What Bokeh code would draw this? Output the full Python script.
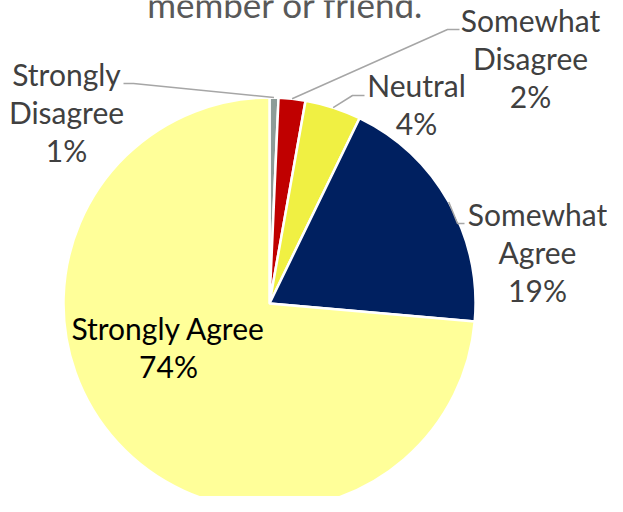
import numpy as np
from bokeh.plotting import figure
from bokeh.models import Range1d, ColumnDataSource
from bokeh.core.properties import value
from bokeh.embed import file_html
from bokeh.resources import INLINE

# ---------------- data ----------------
categories = ["Strongly Disagree", "Somewhat Disagree", "Neutral", "Somewhat Agree", "Strongly Agree"]
shares = [0.7, 2.1, 4.4, 19.2, 73.6]
pct_labels = ["1%", "2%", "4%", "19%", "74%"]
name_lines = [["Strongly", "Disagree"], ["Somewhat", "Disagree"], ["Neutral"],
              ["Somewhat", "Agree"], ["Strongly Agree"]]
title_text = "member or friend."

# ---------------- styles / layout (picture pixels) ----------------
colors = ["#8E9C98", "#C00000", "#F0F043", "#002060", "#FFFF99"]
label_colors = ["#404040", "#404040", "#404040", "#404040", "#000000"]
CX, CY, R = 269, 303, 206
W, H = 607, 496
label_cx = [66, 530, 416, 537, 168]
label_y0 = [84, 30, 95, 224, 338]
LINE_STEP = 38
TEXT_SHIFT = 11  # compensation for where the renderer puts the baseline
elbow_px = [(133, 83), (447, 29), (352, 95), (457, 223), None]
end_px = [(123, 83), (459, 29), (364, 95), (464, 223), None]
FONT = "Lato"
FS = "30px"


def dx(px):
    return px - CX


def dy(py):
    return CY - py


p = figure(width=W, height=H, output_backend="svg", toolbar_location=None,
           x_range=Range1d(dx(0), dx(W)), y_range=Range1d(dy(H), dy(0)),
           min_border=0, outline_line_color=None)
p.axis.visible = False
p.grid.visible = False
p.background_fill_color = "white"
p.border_fill_color = "white"

fr = np.array(shares) / np.sum(shares)
cum_end = np.cumsum(fr)
cum_start = cum_end - fr
src = ColumnDataSource(dict(
    cat=categories,
    start=np.pi / 2 - 2 * np.pi * cum_end,
    end=np.pi / 2 - 2 * np.pi * cum_start,
    color=colors,
))
p.wedge(x=0, y=0, radius=R, start_angle="start", end_angle="end", direction="anticlock",
        fill_color="color", line_color="white", line_width=2.5, source=src)

# leader lines
mid = (cum_start + cum_end) / 2 * 2 * np.pi
for i in range(len(categories)):
    if elbow_px[i] is None:
        continue
    sx = R * np.sin(mid[i])
    sy = R * np.cos(mid[i])
    xs = [sx, dx(elbow_px[i][0]), dx(end_px[i][0])]
    ys = [sy, dy(elbow_px[i][1]), dy(end_px[i][1])]
    p.line(xs, ys, line_color="#A6A6A6", line_width=1.5)

# labels
tx, ty, tt, tc = [], [], [], []
for i in range(len(categories)):
    lines = name_lines[i] + [pct_labels[i]]
    for k, ln in enumerate(lines):
        tx.append(dx(label_cx[i]))
        ty.append(dy(label_y0[i] + k * LINE_STEP - TEXT_SHIFT))
        tt.append(ln)
        tc.append(label_colors[i])
p.text(x=tx, y=ty, text=tt, text_color=tc, text_align="center", text_baseline="alphabetic",
       text_font=value(FONT), text_font_size=FS)

# (cropped) title, as in the reference
p.text(x=[dx(285)], y=[dy(14 - TEXT_SHIFT)], text=[title_text], text_color="#595959", text_align="center",
       text_baseline="alphabetic", text_font=value(FONT), text_font_size="35px")

open("out.html", "w").write(file_html(p, INLINE))
